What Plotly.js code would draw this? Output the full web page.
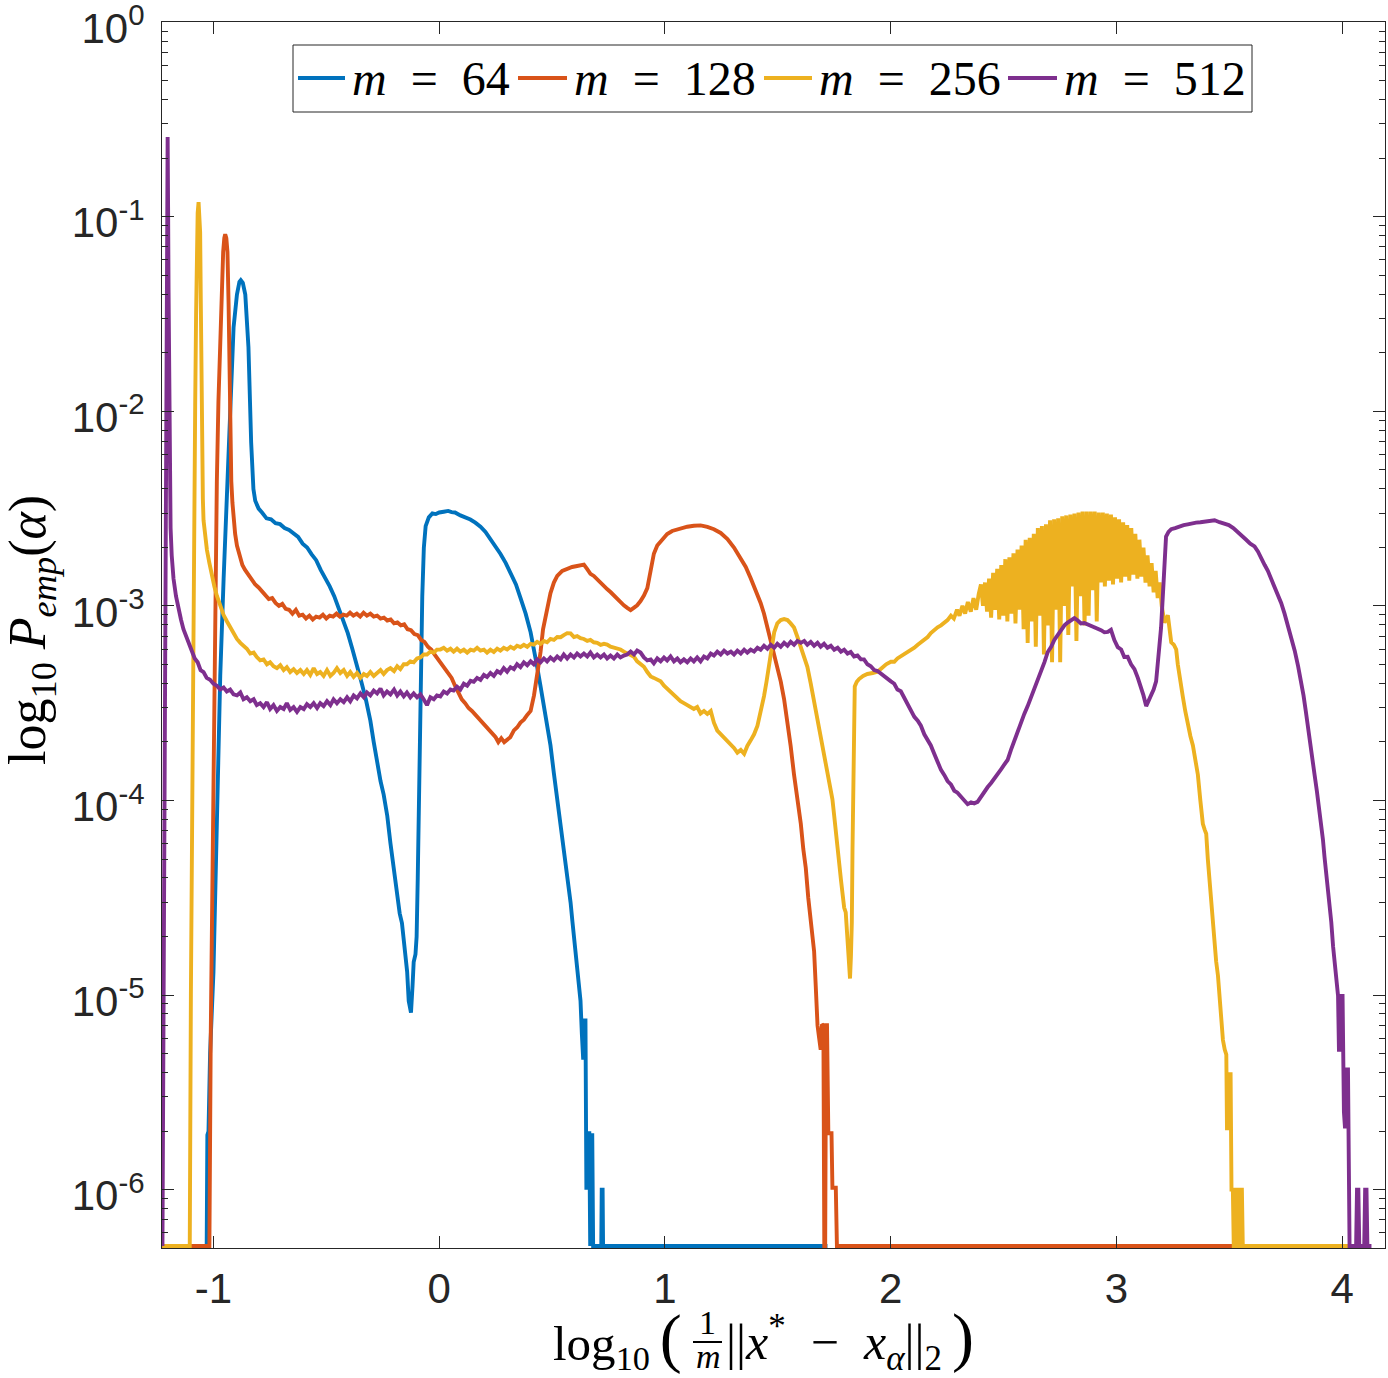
<!DOCTYPE html>
<html>
<head>
<meta charset="utf-8">
<script src="https://cdn.plot.ly/plotly-3.0.1.min.js"></script>
<style>
  html, body { margin: 0; padding: 0; background: #fff; }
  #chart { width: 1388px; height: 1378px; }
</style>
</head>
<body>
<div id="chart"></div>
<script>
// Empirical distribution of log10 P_emp(alpha) against log10((1/m)||x* - x_alpha||_2).
// Each series is a list of [log10 distance, log10 P_emp] pairs; -6.29 marks empty bins
// (drawn along the lower edge of the axes).

const m64 = [
  [-1.227,-6.29],[-1.030,-6.29],[-1.027,-5.72],[-1.022,-5.70],[-1.015,-5.30],[-1.000,-4.88],
  [-0.985,-4.12],[-0.970,-3.36],[-0.955,-2.86],[-0.940,-2.45],[-0.926,-1.97],[-0.911,-1.57],
  [-0.896,-1.40],[-0.885,-1.335],[-0.879,-1.326],[-0.870,-1.34],[-0.859,-1.40],[-0.845,-1.67],
  [-0.833,-2.16],[-0.823,-2.40],[-0.815,-2.46],[-0.800,-2.50],[-0.785,-2.52],[-0.765,-2.55],
  [-0.745,-2.555],[-0.725,-2.575],[-0.705,-2.58],[-0.685,-2.60],[-0.665,-2.61],[-0.645,-2.63],
  [-0.625,-2.645],[-0.605,-2.68],[-0.585,-2.70],[-0.565,-2.735],[-0.545,-2.765],[-0.525,-2.815],
  [-0.505,-2.855],[-0.485,-2.90],[-0.465,-2.95],[-0.445,-3.01],[-0.425,-3.07],[-0.405,-3.14],
  [-0.385,-3.22],[-0.365,-3.30],[-0.345,-3.39],[-0.325,-3.48],[-0.305,-3.59],[-0.290,-3.70],
  [-0.275,-3.81],[-0.260,-3.90],[-0.246,-3.97],[-0.230,-4.08],[-0.216,-4.22],[-0.200,-4.36],
  [-0.187,-4.50],[-0.175,-4.58],[-0.165,-4.63],[-0.157,-4.73],[-0.150,-4.78],[-0.142,-4.88],
  [-0.135,-5.03],[-0.125,-5.09],[-0.118,-4.95],[-0.113,-4.83],[-0.105,-4.79],[-0.100,-4.70],
  [-0.095,-4.40],[-0.090,-4.00],[-0.085,-3.45],[-0.080,-3.15],[-0.075,-2.95],[-0.068,-2.70],
  [-0.060,-2.59],[-0.046,-2.545],[-0.030,-2.525],[-0.015,-2.528],[0.000,-2.520],[0.020,-2.516],
  [0.040,-2.512],[0.055,-2.518],[0.070,-2.520],[0.094,-2.535],[0.115,-2.545],[0.138,-2.556],
  [0.160,-2.572],[0.183,-2.593],[0.205,-2.620],[0.227,-2.656],[0.250,-2.690],[0.271,-2.732],
  [0.295,-2.780],[0.316,-2.833],[0.340,-2.890],[0.360,-2.959],[0.383,-3.040],[0.405,-3.136],
  [0.420,-3.220],[0.434,-3.313],[0.450,-3.420],[0.464,-3.515],[0.480,-3.620],[0.493,-3.717],
  [0.508,-3.860],[0.523,-3.994],[0.537,-4.100],[0.552,-4.247],[0.567,-4.390],[0.582,-4.524],
  [0.590,-4.620],[0.597,-4.701],[0.605,-4.800],[0.611,-4.878],[0.619,-4.950],[0.626,-5.029],
  [0.632,-5.200],[0.638,-5.332],[0.644,-5.130],[0.648,-5.130],[0.652,-5.990],[0.656,-5.990],
  [0.660,-5.710],[0.665,-5.710],[0.669,-6.290],[0.674,-5.710],[0.678,-5.710],[0.682,-6.290],
  [0.718,-6.290],[0.720,-6.000],[0.724,-6.000],[0.726,-6.290],[1.720,-6.290]
];

const m128 = [
  [-1.227,-6.29],[-1.018,-6.29],[-1.012,-5.20],[-1.006,-4.50],[-1.000,-3.87],[-0.992,-3.00],
  [-0.985,-2.36],[-0.978,-1.95],[-0.970,-1.60],[-0.963,-1.35],[-0.957,-1.18],[-0.952,-1.11],
  [-0.948,-1.09],[-0.943,-1.11],[-0.938,-1.18],[-0.933,-1.45],[-0.929,-1.77],[-0.925,-2.10],
  [-0.921,-2.36],[-0.916,-2.47],[-0.911,-2.555],[-0.904,-2.63],[-0.896,-2.69],[-0.885,-2.74],
  [-0.872,-2.79],[-0.860,-2.815],[-0.845,-2.84],[-0.830,-2.865],[-0.815,-2.89],[-0.800,-2.905],
  [-0.785,-2.925],[-0.770,-2.94],[-0.755,-2.965],[-0.740,-2.96],[-0.725,-2.985],[-0.710,-3.00],
  [-0.695,-2.99],[-0.680,-3.015],[-0.665,-3.02],[-0.650,-3.04],[-0.635,-3.02],[-0.620,-3.05],
  [-0.605,-3.045],[-0.590,-3.065],[-0.575,-3.05],[-0.560,-3.07],[-0.545,-3.055],[-0.530,-3.06],
  [-0.515,-3.045],[-0.500,-3.065],[-0.485,-3.05],[-0.470,-3.055],[-0.455,-3.04],[-0.440,-3.055],
  [-0.425,-3.045],[-0.410,-3.05],[-0.395,-3.035],[-0.380,-3.05],[-0.365,-3.04],[-0.350,-3.055],
  [-0.335,-3.035],[-0.320,-3.05],[-0.305,-3.04],[-0.290,-3.055],[-0.275,-3.05],[-0.260,-3.065],
  [-0.245,-3.06],[-0.230,-3.075],[-0.215,-3.07],[-0.200,-3.09],[-0.185,-3.085],[-0.170,-3.10],
  [-0.155,-3.095],[-0.140,-3.12],[-0.125,-3.125],[-0.110,-3.145],[-0.095,-3.15],[-0.080,-3.175],
  [-0.065,-3.185],[-0.050,-3.21],[-0.035,-3.225],[-0.020,-3.25],[-0.005,-3.275],[0.010,-3.30],
  [0.025,-3.32],[0.040,-3.345],[0.055,-3.37],[0.070,-3.41],[0.085,-3.45],[0.100,-3.48],
  [0.115,-3.50],[0.130,-3.525],[0.145,-3.54],[0.160,-3.56],[0.175,-3.575],[0.190,-3.60],
  [0.205,-3.62],[0.220,-3.64],[0.235,-3.66],[0.250,-3.675],[0.262,-3.70],[0.275,-3.68],
  [0.288,-3.70],[0.301,-3.69],[0.315,-3.675],[0.331,-3.64],[0.345,-3.625],[0.360,-3.60],
  [0.375,-3.585],[0.390,-3.56],[0.405,-3.54],[0.420,-3.46],[0.434,-3.36],[0.449,-3.237],
  [0.460,-3.12],[0.471,-3.06],[0.482,-2.98],[0.493,-2.934],[0.508,-2.88],[0.523,-2.846],
  [0.545,-2.82],[0.567,-2.808],[0.589,-2.80],[0.611,-2.795],[0.626,-2.79],[0.641,-2.788],
  [0.655,-2.81],[0.670,-2.835],[0.685,-2.846],[0.700,-2.865],[0.715,-2.88],[0.730,-2.896],
  [0.745,-2.915],[0.760,-2.93],[0.774,-2.947],[0.790,-2.97],[0.805,-2.985],[0.818,-2.997],
  [0.833,-3.01],[0.848,-3.022],[0.862,-3.01],[0.877,-2.997],[0.892,-2.975],[0.907,-2.947],
  [0.922,-2.909],[0.937,-2.82],[0.951,-2.732],[0.966,-2.69],[0.981,-2.669],[0.995,-2.645],
  [1.010,-2.631],[1.032,-2.615],[1.055,-2.606],[1.077,-2.60],[1.099,-2.593],[1.128,-2.588],
  [1.158,-2.586],[1.188,-2.594],[1.217,-2.606],[1.247,-2.625],[1.277,-2.656],[1.306,-2.70],
  [1.336,-2.757],[1.358,-2.80],[1.380,-2.858],[1.402,-2.92],[1.424,-2.985],[1.439,-3.04],
  [1.454,-3.111],[1.469,-3.17],[1.484,-3.237],[1.498,-3.31],[1.513,-3.388],[1.528,-3.48],
  [1.543,-3.59],[1.557,-3.72],[1.572,-3.868],[1.587,-3.99],[1.602,-4.12],[1.613,-4.25],
  [1.624,-4.347],[1.635,-4.50],[1.646,-4.625],[1.655,-4.70],[1.661,-4.777],[1.668,-4.95],
  [1.676,-5.155],[1.683,-5.22],[1.690,-5.281],[1.696,-5.15],[1.702,-5.155],[1.706,-6.29],
  [1.710,-6.29],[1.714,-5.155],[1.718,-5.155],[1.724,-5.71],[1.738,-5.71],[1.742,-5.99],
  [1.757,-5.99],[1.762,-6.29],[3.550,-6.29]
];

const m256 = [
  [-1.227,-6.29],[-1.105,-6.29],[-1.100,-5.00],[-1.095,-4.00],[-1.090,-3.00],[-1.085,-2.30],
  [-1.081,-1.97],[-1.077,-1.50],[-1.074,-1.18],[-1.070,-0.98],[-1.066,-0.925],[-1.062,-0.98],
  [-1.059,-1.08],[-1.056,-1.45],[-1.054,-1.77],[-1.051,-2.20],[-1.047,-2.45],[-1.044,-2.56],
  [-1.036,-2.65],[-1.029,-2.713],[-1.018,-2.78],[-1.007,-2.85],[-0.996,-2.90],[-0.985,-2.948],
  [-0.970,-3.00],[-0.955,-3.047],[-0.940,-3.08],[-0.925,-3.11],[-0.911,-3.145],[-0.896,-3.17],
  [-0.881,-3.19],[-0.867,-3.204],[-0.852,-3.22],[-0.837,-3.245],[-0.822,-3.24],[-0.808,-3.263],
  [-0.793,-3.28],[-0.778,-3.275],[-0.763,-3.30],[-0.749,-3.29],[-0.734,-3.31],[-0.719,-3.32],
  [-0.704,-3.305],[-0.689,-3.33],[-0.675,-3.315],[-0.660,-3.34],[-0.645,-3.325],[-0.630,-3.345],
  [-0.615,-3.33],[-0.600,-3.35],[-0.586,-3.33],[-0.571,-3.355],[-0.556,-3.32],[-0.541,-3.35],
  [-0.527,-3.34],[-0.512,-3.36],[-0.497,-3.33],[-0.482,-3.36],[-0.468,-3.345],[-0.453,-3.32],
  [-0.438,-3.345],[-0.423,-3.33],[-0.408,-3.36],[-0.394,-3.34],[-0.379,-3.365],[-0.364,-3.345],
  [-0.349,-3.37],[-0.334,-3.35],[-0.320,-3.36],[-0.305,-3.34],[-0.290,-3.36],[-0.275,-3.345],
  [-0.260,-3.33],[-0.246,-3.35],[-0.231,-3.33],[-0.216,-3.32],[-0.200,-3.335],[-0.186,-3.31],
  [-0.172,-3.325],[-0.157,-3.30],[-0.143,-3.30],[-0.128,-3.285],[-0.113,-3.29],[-0.098,-3.27],
  [-0.083,-3.265],[-0.069,-3.25],[-0.054,-3.25],[-0.039,-3.235],[-0.024,-3.24],[-0.010,-3.225],
  [0.005,-3.224],[0.020,-3.215],[0.035,-3.23],[0.050,-3.22],[0.064,-3.235],[0.079,-3.22],
  [0.094,-3.235],[0.109,-3.225],[0.124,-3.24],[0.139,-3.225],[0.153,-3.23],[0.168,-3.215],
  [0.183,-3.23],[0.198,-3.225],[0.212,-3.24],[0.227,-3.225],[0.242,-3.237],[0.257,-3.22],
  [0.271,-3.23],[0.286,-3.215],[0.301,-3.224],[0.316,-3.21],[0.331,-3.22],[0.345,-3.205],
  [0.360,-3.212],[0.375,-3.20],[0.390,-3.21],[0.405,-3.195],[0.419,-3.199],[0.434,-3.185],
  [0.449,-3.195],[0.464,-3.18],[0.478,-3.187],[0.493,-3.17],[0.508,-3.175],[0.523,-3.16],
  [0.538,-3.161],[0.552,-3.15],[0.567,-3.14],[0.582,-3.141],[0.597,-3.16],[0.611,-3.155],
  [0.626,-3.166],[0.641,-3.17],[0.656,-3.18],[0.670,-3.175],[0.685,-3.187],[0.700,-3.19],
  [0.715,-3.20],[0.730,-3.195],[0.744,-3.199],[0.759,-3.21],[0.774,-3.215],[0.789,-3.22],
  [0.803,-3.224],[0.818,-3.235],[0.833,-3.245],[0.848,-3.25],[0.863,-3.262],[0.877,-3.285],
  [0.892,-3.30],[0.907,-3.313],[0.922,-3.34],[0.937,-3.363],[0.951,-3.37],[0.966,-3.38],
  [0.981,-3.388],[0.996,-3.41],[1.010,-3.425],[1.025,-3.439],[1.040,-3.46],[1.055,-3.475],
  [1.069,-3.49],[1.084,-3.50],[1.099,-3.51],[1.114,-3.515],[1.128,-3.53],[1.143,-3.52],
  [1.158,-3.553],[1.173,-3.54],[1.188,-3.555],[1.203,-3.54],[1.217,-3.60],[1.232,-3.641],
  [1.247,-3.66],[1.262,-3.675],[1.277,-3.691],[1.292,-3.715],[1.306,-3.73],[1.321,-3.754],
  [1.336,-3.74],[1.351,-3.76],[1.365,-3.72],[1.380,-3.691],[1.395,-3.66],[1.410,-3.616],
  [1.424,-3.55],[1.439,-3.464],[1.450,-3.39],[1.461,-3.313],[1.472,-3.22],[1.484,-3.136],
  [1.498,-3.09],[1.513,-3.073],[1.528,-3.068],[1.543,-3.073],[1.557,-3.09],[1.572,-3.111],
  [1.587,-3.16],[1.602,-3.212],[1.617,-3.26],[1.631,-3.313],[1.646,-3.40],[1.661,-3.49],
  [1.675,-3.58],[1.690,-3.666],[1.705,-3.77],[1.720,-3.868],[1.731,-3.93],[1.742,-3.994],
  [1.750,-4.08],[1.757,-4.171],[1.765,-4.25],[1.772,-4.322],[1.780,-4.41],[1.787,-4.499],
  [1.794,-4.55],[1.801,-4.575],[1.806,-4.65],[1.812,-4.751],[1.816,-4.85],[1.820,-4.915],
  [1.824,-4.80],[1.828,-4.625],[1.831,-4.25],[1.835,-3.868],[1.838,-3.60],[1.841,-3.414],
  [1.850,-3.39],[1.860,-3.376],[1.878,-3.36],[1.897,-3.35],[1.920,-3.345],[1.942,-3.338],
  [1.960,-3.32],[1.980,-3.30],[2.001,-3.287],[2.016,-3.287],[2.030,-3.27],[2.045,-3.26],
  [2.060,-3.25],[2.075,-3.237],[2.090,-3.225],[2.105,-3.215],[2.120,-3.20],[2.134,-3.187],
  [2.149,-3.17],[2.164,-3.16],[2.178,-3.14],[2.193,-3.123],[2.208,-3.11],[2.223,-3.10],
  [2.237,-3.085],[2.252,-3.073],[2.267,-3.05],[2.280,-3.065],[2.294,-3.02],[2.305,-3.05],
  [2.318,-3.00],[2.330,-3.04],[2.342,-2.98],[2.355,-3.03],[2.367,-2.96],[2.379,-3.02],
  [2.390,-2.94],
  // rapidly oscillating stretch
  [2.400,-2.89],[2.409,-3.00],[2.418,-2.88],[2.427,-3.03],[2.436,-2.86],[2.445,-3.06],
  [2.454,-2.83],[2.463,-3.02],[2.472,-2.81],[2.481,-3.07],[2.490,-2.79],[2.499,-3.05],
  [2.508,-2.76],[2.517,-3.08],[2.526,-2.75],[2.535,-3.04],[2.544,-2.73],[2.553,-3.09],
  [2.562,-2.71],[2.571,-3.02],[2.580,-2.69],[2.589,-3.12],[2.598,-2.66],[2.607,-3.19],
  [2.616,-2.65],[2.625,-3.08],[2.634,-2.63],[2.643,-3.21],[2.652,-2.60],[2.661,-3.05],
  [2.670,-2.59],[2.679,-3.25],[2.688,-2.58],[2.697,-3.10],[2.706,-2.56],[2.715,-3.29],
  [2.724,-2.555],[2.733,-3.02],[2.742,-2.55],[2.751,-3.29],[2.760,-2.54],[2.769,-3.00],
  [2.778,-2.535],[2.787,-3.15],[2.796,-2.53],[2.805,-2.90],[2.814,-2.525],[2.823,-3.18],
  [2.832,-2.52],[2.841,-2.95],[2.850,-2.515],[2.859,-3.10],[2.868,-2.515],[2.877,-3.05],
  [2.886,-2.515],[2.895,-2.92],[2.904,-2.515],[2.913,-3.08],[2.922,-2.52],[2.931,-2.88],
  [2.940,-2.52],[2.949,-2.90],[2.958,-2.525],[2.967,-2.87],[2.976,-2.53],[2.985,-2.89],
  [2.994,-2.545],[3.003,-2.86],[3.012,-2.555],[3.021,-2.88],[3.030,-2.57],[3.039,-2.85],
  [3.048,-2.585],[3.057,-2.87],[3.066,-2.60],[3.075,-2.84],[3.084,-2.63],[3.093,-2.86],
  [3.102,-2.66],[3.111,-2.85],[3.120,-2.70],[3.129,-2.88],[3.138,-2.74],[3.147,-2.90],
  [3.156,-2.78],[3.165,-2.93],[3.174,-2.82],[3.183,-2.96],[3.192,-2.88],[3.201,-3.00],
  [3.213,-3.086],[3.228,-3.048],[3.236,-3.12],
  [3.243,-3.187],[3.255,-3.20],[3.265,-3.224],[3.272,-3.30],[3.279,-3.363],[3.287,-3.42],
  [3.294,-3.464],[3.305,-3.54],[3.316,-3.616],[3.328,-3.67],[3.339,-3.717],[3.350,-3.80],
  [3.361,-3.868],[3.372,-4.00],[3.383,-4.12],[3.391,-4.15],[3.398,-4.171],[3.405,-4.30],
  [3.413,-4.423],[3.420,-4.50],[3.427,-4.575],[3.435,-4.70],[3.442,-4.827],[3.450,-4.90],
  [3.457,-5.004],[3.465,-5.12],[3.472,-5.231],[3.480,-5.28],[3.487,-5.306],[3.490,-5.685],
  [3.494,-5.685],[3.499,-5.407],[3.506,-5.407],[3.510,-6.00],[3.516,-6.00],[3.520,-6.29],
  [3.526,-6.29],[3.529,-6.00],[3.534,-6.00],[3.538,-6.29],[3.548,-6.29],[3.551,-6.00],
  [3.556,-6.00],[3.560,-6.29],[4.050,-6.29]
];

const m512 = [
  [-1.226,-6.29],[-1.219,-4.50],[-1.213,-3.00],[-1.208,-1.80],[-1.205,-1.00],[-1.203,-0.59],
  [-1.201,-0.95],[-1.199,-1.375],[-1.196,-2.00],[-1.193,-2.40],[-1.190,-2.60],[-1.185,-2.74],
  [-1.177,-2.86],[-1.166,-2.95],[-1.155,-3.02],[-1.144,-3.07],[-1.133,-3.12],[-1.120,-3.16],
  [-1.108,-3.20],[-1.096,-3.24],[-1.083,-3.27],[-1.070,-3.29],[-1.057,-3.33],[-1.044,-3.34],
  [-1.030,-3.37],[-1.015,-3.38],[-1.000,-3.40],[-0.985,-3.41],[-0.970,-3.43],[-0.955,-3.42],
  [-0.941,-3.44],[-0.926,-3.43],[-0.911,-3.455],[-0.896,-3.46],[-0.881,-3.445],[-0.867,-3.48],
  [-0.852,-3.47],[-0.837,-3.49],[-0.822,-3.48],[-0.808,-3.51],[-0.793,-3.50],[-0.778,-3.52],
  [-0.763,-3.495],[-0.749,-3.53],[-0.734,-3.51],[-0.719,-3.54],[-0.704,-3.52],[-0.689,-3.53],
  [-0.675,-3.50],[-0.660,-3.535],[-0.645,-3.52],[-0.630,-3.545],[-0.615,-3.52],[-0.600,-3.53],
  [-0.586,-3.505],[-0.571,-3.52],[-0.556,-3.50],[-0.541,-3.525],[-0.527,-3.50],[-0.512,-3.515],
  [-0.497,-3.49],[-0.482,-3.51],[-0.468,-3.48],[-0.453,-3.50],[-0.438,-3.48],[-0.423,-3.495],
  [-0.408,-3.47],[-0.394,-3.49],[-0.379,-3.46],[-0.364,-3.475],[-0.349,-3.45],[-0.334,-3.47],
  [-0.320,-3.445],[-0.305,-3.46],[-0.290,-3.435],[-0.275,-3.45],[-0.260,-3.425],[-0.246,-3.46],
  [-0.231,-3.44],[-0.216,-3.455],[-0.200,-3.43],[-0.186,-3.46],[-0.172,-3.44],[-0.157,-3.465],
  [-0.143,-3.445],[-0.128,-3.47],[-0.113,-3.45],[-0.098,-3.47],[-0.083,-3.455],[-0.069,-3.48],
  [-0.054,-3.51],[-0.039,-3.47],[-0.024,-3.48],[-0.010,-3.46],[0.005,-3.465],[0.020,-3.44],
  [0.035,-3.45],[0.050,-3.43],[0.064,-3.435],[0.079,-3.415],[0.094,-3.43],[0.109,-3.40],
  [0.124,-3.41],[0.139,-3.385],[0.153,-3.39],[0.168,-3.37],[0.183,-3.38],[0.198,-3.355],
  [0.212,-3.365],[0.227,-3.345],[0.242,-3.36],[0.257,-3.335],[0.271,-3.345],[0.286,-3.32],
  [0.301,-3.338],[0.316,-3.315],[0.331,-3.325],[0.345,-3.30],[0.360,-3.315],[0.375,-3.29],
  [0.390,-3.305],[0.405,-3.285],[0.419,-3.30],[0.434,-3.275],[0.449,-3.29],[0.464,-3.27],
  [0.478,-3.285],[0.493,-3.265],[0.508,-3.28],[0.523,-3.26],[0.538,-3.275],[0.552,-3.25],
  [0.567,-3.27],[0.582,-3.25],[0.597,-3.265],[0.611,-3.245],[0.626,-3.26],[0.641,-3.245],
  [0.656,-3.26],[0.670,-3.24],[0.685,-3.265],[0.700,-3.25],[0.715,-3.265],[0.730,-3.25],
  [0.744,-3.27],[0.759,-3.255],[0.774,-3.27],[0.789,-3.25],[0.803,-3.265],[0.818,-3.255],
  [0.833,-3.25],[0.848,-3.235],[0.863,-3.25],[0.877,-3.23],[0.892,-3.24],[0.907,-3.265],
  [0.922,-3.28],[0.937,-3.275],[0.951,-3.295],[0.966,-3.27],[0.981,-3.285],[0.996,-3.265],
  [1.010,-3.28],[1.025,-3.26],[1.040,-3.285],[1.055,-3.27],[1.069,-3.29],[1.084,-3.275],
  [1.099,-3.29],[1.114,-3.27],[1.128,-3.285],[1.143,-3.265],[1.158,-3.285],[1.173,-3.26],
  [1.188,-3.27],[1.203,-3.245],[1.217,-3.255],[1.232,-3.235],[1.247,-3.25],[1.262,-3.23],
  [1.277,-3.245],[1.292,-3.235],[1.306,-3.25],[1.321,-3.23],[1.336,-3.245],[1.351,-3.225],
  [1.365,-3.24],[1.380,-3.225],[1.395,-3.235],[1.410,-3.215],[1.424,-3.225],[1.439,-3.205],
  [1.454,-3.22],[1.469,-3.20],[1.484,-3.215],[1.498,-3.195],[1.513,-3.21],[1.528,-3.19],
  [1.543,-3.205],[1.557,-3.185],[1.572,-3.20],[1.587,-3.18],[1.602,-3.19],[1.617,-3.18],
  [1.631,-3.20],[1.646,-3.185],[1.661,-3.205],[1.676,-3.19],[1.690,-3.21],[1.705,-3.195],
  [1.720,-3.215],[1.735,-3.205],[1.750,-3.225],[1.765,-3.215],[1.780,-3.235],[1.794,-3.225],
  [1.809,-3.245],[1.823,-3.237],[1.838,-3.26],[1.853,-3.255],[1.868,-3.275],[1.882,-3.275],
  [1.897,-3.30],[1.912,-3.31],[1.927,-3.33],[1.942,-3.335],[1.957,-3.35],[1.972,-3.365],
  [1.987,-3.375],[2.001,-3.388],[2.016,-3.40],[2.030,-3.43],[2.045,-3.439],[2.060,-3.47],
  [2.075,-3.50],[2.090,-3.54],[2.105,-3.57],[2.120,-3.59],[2.134,-3.616],[2.149,-3.66],
  [2.164,-3.69],[2.178,-3.717],[2.193,-3.76],[2.208,-3.80],[2.223,-3.843],[2.238,-3.87],
  [2.252,-3.90],[2.267,-3.918],[2.282,-3.95],[2.296,-3.96],[2.311,-3.982],[2.326,-4.00],
  [2.341,-4.019],[2.356,-4.01],[2.370,-4.015],[2.385,-4.007],[2.400,-3.98],[2.415,-3.96],
  [2.430,-3.931],[2.445,-3.91],[2.459,-3.89],[2.474,-3.868],[2.489,-3.84],[2.504,-3.815],
  [2.518,-3.792],[2.533,-3.74],[2.548,-3.69],[2.563,-3.641],[2.578,-3.60],[2.592,-3.555],
  [2.607,-3.515],[2.622,-3.47],[2.637,-3.43],[2.651,-3.388],[2.666,-3.34],[2.681,-3.29],
  [2.696,-3.237],[2.711,-3.21],[2.725,-3.175],[2.740,-3.149],[2.755,-3.124],[2.770,-3.10],
  [2.784,-3.086],[2.799,-3.075],[2.814,-3.063],[2.829,-3.075],[2.843,-3.09],[2.858,-3.088],
  [2.873,-3.095],[2.888,-3.10],[2.903,-3.111],[2.918,-3.114],[2.932,-3.125],[2.947,-3.136],
  [2.962,-3.134],[2.976,-3.123],[2.991,-3.176],[3.006,-3.212],[3.021,-3.224],[3.035,-3.263],
  [3.050,-3.262],[3.065,-3.30],[3.080,-3.325],[3.095,-3.37],[3.109,-3.414],[3.120,-3.46],
  [3.132,-3.515],[3.143,-3.49],[3.154,-3.464],[3.165,-3.43],[3.176,-3.388],[3.187,-3.25],
  [3.198,-3.111],[3.209,-2.88],[3.220,-2.644],[3.231,-2.62],[3.243,-2.606],[3.260,-2.60],
  [3.280,-2.59],[3.298,-2.585],[3.316,-2.581],[3.335,-2.575],[3.353,-2.572],[3.372,-2.57],
  [3.390,-2.568],[3.412,-2.565],[3.435,-2.56],[3.457,-2.57],[3.479,-2.576],[3.498,-2.585],
  [3.518,-2.60],[3.538,-2.619],[3.556,-2.64],[3.575,-2.66],[3.593,-2.68],[3.612,-2.694],
  [3.627,-2.72],[3.642,-2.76],[3.657,-2.79],[3.671,-2.82],[3.686,-2.86],[3.700,-2.90],
  [3.715,-2.94],[3.730,-2.985],[3.745,-3.04],[3.760,-3.10],[3.775,-3.161],[3.790,-3.23],
  [3.805,-3.31],[3.819,-3.388],[3.829,-3.46],[3.839,-3.54],[3.849,-3.616],[3.859,-3.70],
  [3.868,-3.78],[3.878,-3.868],[3.888,-3.95],[3.898,-4.04],[3.908,-4.12],[3.915,-4.20],
  [3.922,-4.29],[3.930,-4.373],[3.937,-4.45],[3.944,-4.53],[3.952,-4.625],[3.960,-4.75],
  [3.967,-4.827],[3.975,-4.93],[3.982,-5.004],[3.986,-5.281],[3.990,-5.281],[3.995,-5.004],
  [4.002,-5.004],[4.008,-5.60],[4.013,-5.685],[4.019,-5.382],[4.026,-5.382],[4.033,-6.29],
  [4.062,-6.29],[4.066,-6.00],[4.072,-6.00],[4.076,-6.29],[4.098,-6.29],[4.102,-6.00],
  [4.108,-6.00],[4.112,-6.29],[4.130,-6.29]
];

const seriesNames = ['<i>m</i>\u2002=\u200264', '<i>m</i>\u2002=\u2002128',
                     '<i>m</i>\u2002=\u2002256', '<i>m</i>\u2002=\u2002512'];
const seriesColors = ['#0072BD', '#D95319', '#EDB120', '#7E2F8E'];
const seriesData = [m64, m128, m256, m512];

const xTickVals = [-1, 0, 1, 2, 3, 4];
const xTickText = ['-1', '0', '1', '2', '3', '4'];
const yTickExp = [-6, -5, -4, -3, -2, -1, 0];

const traces = seriesData.map((pts, i) => ({
  type: 'scatter',
  mode: 'lines',
  name: seriesNames[i],
  x: pts.map(p => p[0]),
  y: pts.map(p => Math.pow(10, p[1])),
  line: { color: seriesColors[i], width: 3.9 },
  hoverinfo: 'skip',
  showlegend: false
}));

const axisColor = '#262626';
const serif = 'Liberation Serif, Times New Roman, serif';

// Plot-area geometry in pixels, used to place the legend box and the composed axis titles.
const L = 162, R = 1385, T = 22, B = 1248;
const px = v => (v - L) / (R - L);
const py = v => (B - v) / (B - T);

// Legend: boxed single row; sample line start/end and label start (pixels).
const legendBox = { x0: 293, x1: 1252, y0: 45, y1: 112 };
const legendLineX = [[298, 345], [518, 567], [764, 812], [1008, 1057]];
const legendTextX = [350, 572, 817, 1062];
const legendY = 78;

const shapes = [
  { type: 'rect', xref: 'paper', yref: 'paper',
    x0: px(legendBox.x0), x1: px(legendBox.x1), y0: py(legendBox.y0), y1: py(legendBox.y1),
    line: { color: axisColor, width: 1 }, fillcolor: '#ffffff', layer: 'above' },
  // fraction bar of 1/m in the x-axis title
  { type: 'line', xref: 'paper', yref: 'paper', x0: px(693), x1: px(722), y0: py(1342), y1: py(1342),
    line: { color: '#000000', width: 2 } }
];
legendLineX.forEach((seg, i) => shapes.push({
  type: 'line', xref: 'paper', yref: 'paper',
  x0: px(seg[0]), x1: px(seg[1]), y0: py(legendY), y1: py(legendY),
  line: { color: seriesColors[i], width: 3.9 }, layer: 'above'
}));

const annotations = [
  { xref: 'paper', yref: 'paper', x: px(684), y: py(1339), xanchor: 'right', yanchor: 'middle',
    showarrow: false, font: { family: serif, size: 49, color: '#000000' },
    text: 'log<sub>10</sub>\u2009<span style="font-size:66px">(</span>' },
  { xref: 'paper', yref: 'paper', x: px(707), y: py(1322), xanchor: 'center', yanchor: 'middle',
    showarrow: false, font: { family: serif, size: 34, color: '#000000' }, text: '1' },
  { xref: 'paper', yref: 'paper', x: px(708), y: py(1356), xanchor: 'center', yanchor: 'middle',
    showarrow: false, font: { family: serif, size: 34, color: '#000000' }, text: '<i>m</i>' },
  { xref: 'paper', yref: 'paper', x: px(724), y: py(1339), xanchor: 'left', yanchor: 'middle',
    showarrow: false, font: { family: serif, size: 50, color: '#000000' },
    text: '||<i>x</i><sup>*</sup>\u2002\u2212\u2002<i>x</i><sub><i>α</i></sub>||<sub>2</sub>\u2009<span style="font-size:66px">)</span>' },
  { xref: 'paper', yref: 'paper', x: px(31), y: py(630), xanchor: 'center', yanchor: 'middle',
    textangle: -90, showarrow: false, font: { family: serif, size: 52, color: '#000000' },
    text: 'log<sub>10</sub> <i>P<sub>emp</sub></i>(<i>α</i>)' }
];
seriesNames.forEach((name, i) => annotations.push({
  xref: 'paper', yref: 'paper', x: px(legendTextX[i]), y: py(legendY), xanchor: 'left', yanchor: 'middle',
  showarrow: false, font: { family: serif, size: 48, color: '#000000' }, text: name
}));

const layout = {
  width: 1388,
  height: 1378,
  margin: { l: L, r: 1388 - R, t: T, b: 1378 - B, pad: 0 },
  paper_bgcolor: '#ffffff',
  plot_bgcolor: '#ffffff',
  showlegend: false,
  xaxis: {
    type: 'linear',
    range: [-1.228, 4.19],
    tickmode: 'array',
    tickvals: xTickVals,
    ticktext: xTickText,
    ticks: 'inside',
    ticklen: 12,
    tickwidth: 1,
    tickcolor: axisColor,
    ticklabelstandoff: 4,
    showline: true,
    linecolor: axisColor,
    linewidth: 1,
    mirror: 'ticks',
    showgrid: false,
    zeroline: false,
    tickfont: { family: 'Liberation Sans, Arial, sans-serif', size: 42, color: axisColor }
  },
  yaxis: {
    type: 'log',
    range: [-6.30, 0.0008],
    tickmode: 'array',
    tickvals: yTickExp.map(e => Math.pow(10, e)),
    ticktext: yTickExp.map(e => '10<sup>' + e + '</sup>'),
    ticks: 'inside',
    ticklen: 12,
    tickwidth: 1,
    tickcolor: axisColor,
    ticklabelstandoff: 8,
    ticklabelshift: 6,
    ticklabeloverflow: 'allow',
    minor: { dtick: 'D1', ticks: 'inside', ticklen: 6, tickwidth: 1, tickcolor: axisColor, showgrid: false },
    showline: true,
    linecolor: axisColor,
    linewidth: 1,
    mirror: 'ticks',
    showgrid: false,
    zeroline: false,
    tickfont: { family: 'Liberation Sans, Arial, sans-serif', size: 42, color: axisColor }
  },
  shapes: shapes,
  annotations: annotations
};

Plotly.newPlot('chart', traces, layout, { staticPlot: true, displayModeBar: false });
</script>
</body>
</html>
